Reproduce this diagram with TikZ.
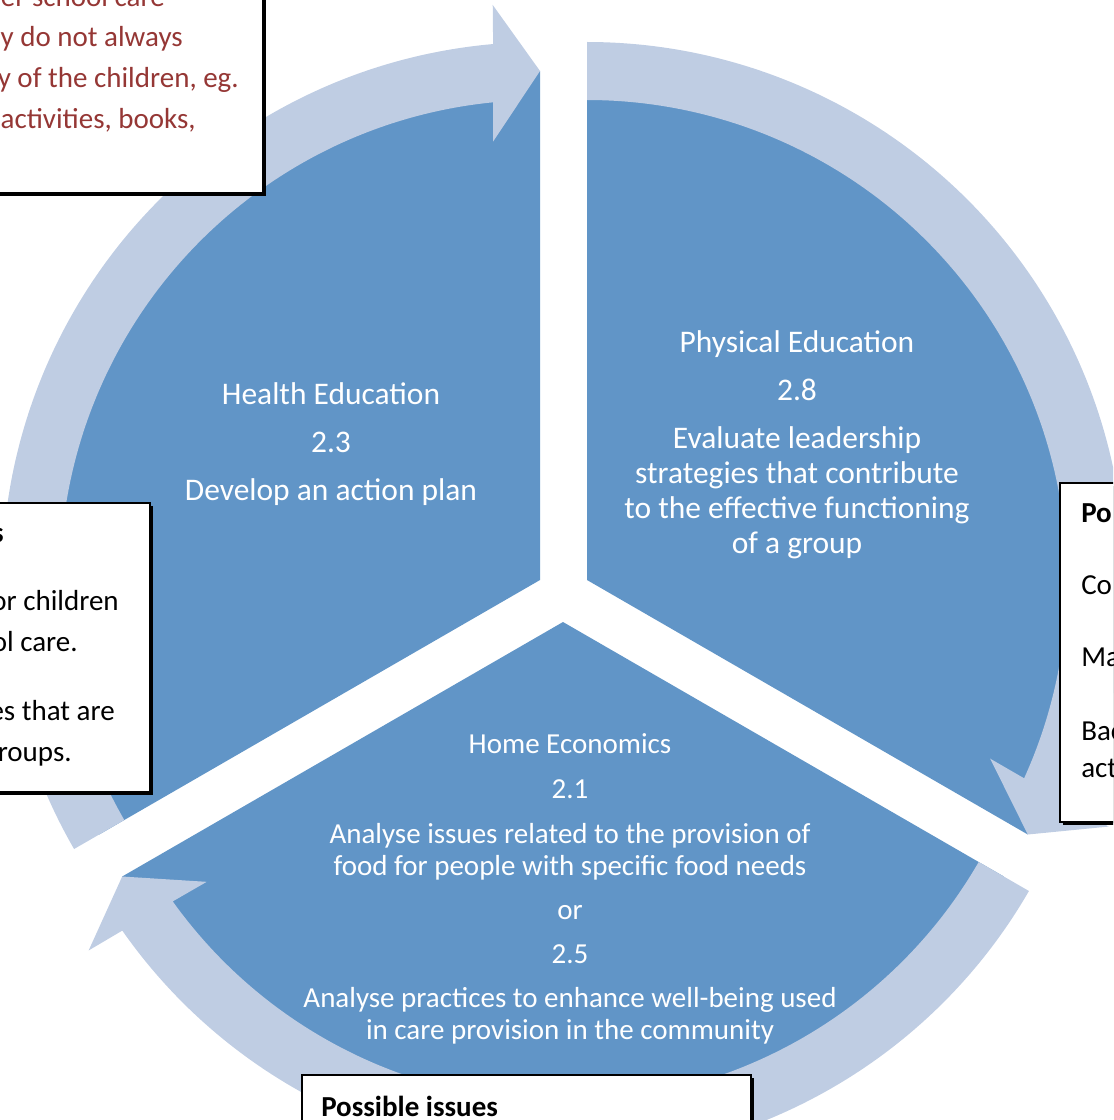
\documentclass[tikz,border=0pt]{standalone}
\usepackage{fontspec}
\setmainfont{Carlito}
\definecolor{wedgeblue}{RGB}{97,149,199}
\definecolor{bandblue}{RGB}{191,205,227}
\definecolor{noteRed}{RGB}{149,55,53}
\begin{document}
\begin{tikzpicture}[x=0.75pt,y=0.75pt,
  wedgefill/.style={fill=wedgeblue},
  bandfill/.style={fill=bandblue},
  wedgetext/.style={align=center,text=white,inner sep=0pt,font=\fontsize{23.6pt}{26.25pt}\selectfont},
  bottomtext/.style={align=center,text=white,inner sep=0pt,font=\fontsize{21.75pt}{24pt}\selectfont},
  notebox/.style={fill=white,draw=black,line width=1.1pt},
  noteshadow/.style={fill=black},
  notetext/.style={inner sep=0pt,font=\fontsize{21.75pt}{30.75pt}\selectfont},
]
\useasboundingbox (0,0) rectangle (1113,-1120);
\clip (0,0) rectangle (1113,-1120);

% wedges
\fill[wedgefill] (540,-580) -- ++(90:509) arc[start angle=90,end angle=210,radius=509] -- cycle;
\fill[wedgefill] (587,-580) -- ++(-30:509) arc[start angle=-30,end angle=90,radius=509] -- cycle;
\fill[wedgefill] (563,-622) -- ++(210:509) arc[start angle=210,end angle=330,radius=509] -- cycle;

% circular arrows
\begin{scope}[shift={(540,-580)}]
\fill[bandfill] (210:538) arc[start angle=210,end angle=95,radius=538] -- (94.7:577) -- (90:509) -- (96.1:441) -- (95.6:480) arc[start angle=95.6,end angle=210,radius=480] -- cycle;
\end{scope}
\begin{scope}[shift={(587,-580)}]
\fill[bandfill] (90:538) arc[start angle=90,end angle=-25,radius=538] -- (-25.3:577) -- (-30:509) -- (-23.9:441) -- (-24.4:480) arc[start angle=-24.4,end angle=90,radius=480] -- cycle;
\end{scope}
\begin{scope}[shift={(563,-622)}]
\fill[bandfill] (330:538) arc[start angle=330,end angle=215,radius=538] -- (214.7:577) -- (210:509) -- (216.1:441) -- (215.6:480) arc[start angle=215.6,end angle=330,radius=480] -- cycle;
\end{scope}

% wedge texts
\node[wedgetext] (health) at (331,-445) {\strut Health Education\\[9.75pt]2.3\\[9.75pt]Develop an action plan\strut};
\node[wedgetext] (physical) at (797,-445.5) {\strut Physical Education\\[9.75pt]2.8\\[9.75pt]Evaluate leadership\\strategies that contribute\\to the effective functioning\\of a group\strut};
\node[bottomtext] (home) at (570,-890) {\strut Home Economics\\[9.6pt]2.1\\[9.6pt]Analyse issues related to the provision of\\food for people with specific food needs\\[9.2pt]or\\[9.2pt]2.5\\[8.6pt]Analyse practices to enhance well-being used\\in care provision in the community\strut};

% note boxes
\fill[noteshadow] (-17.5,17.5) rectangle (265.5,-195.5);
\draw[notebox] (-20,20) rectangle (263,-193);
\node[notetext,text=noteRed,anchor=base east] (tla) at (165,-7) {er school care};
\node[notetext,text=noteRed,anchor=base east] (tlb) at (183,-47) {y do not always};
\node[notetext,text=noteRed,anchor=base east] (tlc) at (239,-88) {y of the children, eg.};
\node[notetext,text=noteRed,anchor=base east] (tld) at (196,-129) {activities, books,};

\fill[noteshadow] (-17.5,-505.5) rectangle (152.5,-794.5);
\draw[notebox] (-20,-503) rectangle (150,-792);
\node[notetext,anchor=base east,font=\fontsize{21.75pt}{30.75pt}\selectfont\bfseries] (lba) at (4,-542) {s};
\node[notetext,anchor=base east] (lbb) at (119,-610) {or children};
\node[notetext,anchor=base east] (lbc) at (78,-651) {ol care.};
\node[notetext,anchor=base east] (lbd) at (115,-720) {es that are};
\node[notetext,anchor=base east] (lbe) at (72,-761) {roups.};

\fill[noteshadow] (1062.5,-485.5) rectangle (1130,-824.5);
\draw[notebox] (1060,-483) rectangle (1130,-822);
\node[notetext,anchor=base west,font=\fontsize{21.75pt}{30.75pt}\selectfont\bfseries] (rba) at (1081,-522) {Po};
\node[notetext,anchor=base west] (rbb) at (1081,-594) {Co};
\node[notetext,anchor=base west] (rbc) at (1081,-666) {Ma};
\node[notetext,anchor=base west] (rbd) at (1081,-740) {Bac};
\node[notetext,anchor=base west] (rbe) at (1081,-777) {act};

\fill[noteshadow] (304.5,-1077.5) rectangle (753.5,-1140);
\draw[notebox] (302,-1075) rectangle (751,-1140);
\node[notetext,anchor=base west,font=\fontsize{21.75pt}{30.75pt}\selectfont\bfseries] (bba) at (321,-1116) {Possible issues};
\end{tikzpicture}
\end{document}
